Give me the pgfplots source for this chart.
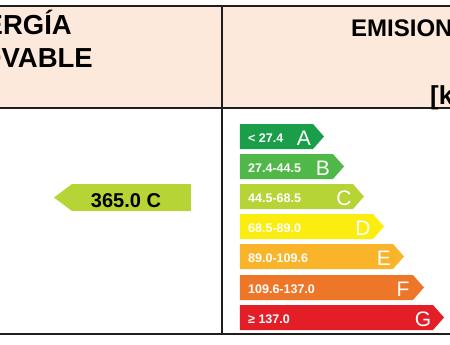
\documentclass[border=0pt]{standalone}
\usepackage{pgfplots}
\pgfplotsset{compat=1.18}
\usepackage{fontspec}
\setmainfont{Liberation Sans}

\definecolor{peach}{RGB}{252,233,219}
\definecolor{clsA}{RGB}{26,158,74}
\definecolor{clsB}{RGB}{80,184,72}
\definecolor{clsC}{RGB}{183,212,55}
\definecolor{clsD}{RGB}{252,237,16}
\definecolor{clsE}{RGB}{249,180,42}
\definecolor{clsF}{RGB}{238,118,40}
\definecolor{clsG}{RGB}{228,30,38}
\definecolor{rule}{RGB}{30,30,30}

\newcommand\hdfont{\fontsize{27.5}{30}\selectfont\bfseries}
\newcommand\rangefont{\fontsize{12.5}{14}\selectfont\bfseries}
\newcommand\letterfont{\fontsize{21}{23}\selectfont}

\begin{document}
\begin{tikzpicture}
\useasboundingbox (0,0) rectangle (450pt,345pt);
\begin{axis}[
  at={(0,0)}, anchor=south west,
  scale only axis, width=450pt, height=345pt,
  xmin=0, xmax=450, ymin=0, ymax=345,
  y dir=reverse, hide axis, clip=false]

% header band
\addplot[fill=peach, draw=none] coordinates {(0,6) (450,6) (450,108) (0,108)} -- cycle;

% rating scale: left edge 240, height 25, arrow tip 11 wide
\addplot[fill=clsA, draw=none] coordinates {(240,124) (313,124) (324,136.5) (313,149) (240,149)} -- cycle;
\addplot[fill=clsB, draw=none] coordinates {(240,154) (333,154) (344,166.5) (333,179) (240,179)} -- cycle;
\addplot[fill=clsC, draw=none] coordinates {(240,184) (353,184) (364,196.5) (353,209) (240,209)} -- cycle;
\addplot[fill=clsD, draw=none] coordinates {(240,214) (373,214) (384,226.5) (373,239) (240,239)} -- cycle;
\addplot[fill=clsE, draw=none] coordinates {(240,244) (393,244) (404,256.5) (393,269) (240,269)} -- cycle;
\addplot[fill=clsF, draw=none] coordinates {(240,275) (413,275) (424,287.5) (413,300) (240,300)} -- cycle;
\addplot[fill=clsG, draw=none] coordinates {(240,305) (433,305) (444,317.5) (433,330) (240,330)} -- cycle;

% indicator of the rated value
\addplot[fill=clsC, draw=none] coordinates {(54,197.5) (72,184) (191,184) (191,211) (72,211)} -- cycle;

% table rules
\draw[rule, line width=1.3pt] (axis cs:0,6) -- (axis cs:450,6);
\draw[rule, line width=1.3pt] (axis cs:0,108) -- (axis cs:450,108);
\draw[rule, line width=1.3pt] (axis cs:0,334) -- (axis cs:450,334);
\draw[rule, line width=1.3pt] (axis cs:222,6) -- (axis cs:222,334);

% header texts
\node[anchor=base east, inner sep=0, font=\hdfont] at (axis cs:72,35) {CONSUMO DE ENERGÍA};
\node[anchor=base east, inner sep=0, font=\hdfont] at (axis cs:93,67) {PRIMARIA NO RENOVABLE};
\node[anchor=base west, inner sep=0, font=\fontsize{24}{28}\selectfont\bfseries] at (axis cs:351,36.5) {EMISIONES DE};
\node[anchor=base west, inner sep=0, font=\fontsize{26}{30}\selectfont\bfseries] at (axis cs:430,104.5) {[kgCO₂/m² año]};

% range labels
\node[anchor=base west, inner sep=0, text=white, font=\rangefont] at (axis cs:248,142.5) {< 27.4};
\node[anchor=base west, inner sep=0, text=white, font=\rangefont] at (axis cs:248,172.5) {27.4-44.5};
\node[anchor=base west, inner sep=0, text=white, font=\rangefont] at (axis cs:248,202.5) {44.5-68.5};
\node[anchor=base west, inner sep=0, text=white, font=\rangefont] at (axis cs:248,232.5) {68.5-89.0};
\node[anchor=base west, inner sep=0, text=white, font=\rangefont] at (axis cs:248,262.5) {89.0-109.6};
\node[anchor=base west, inner sep=0, text=white, font=\rangefont] at (axis cs:248,293.5) {109.6-137.0};
\node[anchor=base west, inner sep=0, text=white, font=\rangefont] at (axis cs:248,323.5) {≥ 137.0};

% class letters
\node[anchor=base, inner sep=0, text=white, font=\letterfont] at (axis cs:304,145) {A};
\node[anchor=base, inner sep=0, text=white, font=\letterfont] at (axis cs:323,175) {B};
\node[anchor=base, inner sep=0, text=white, font=\letterfont] at (axis cs:344,205) {C};
\node[anchor=base, inner sep=0, text=white, font=\letterfont] at (axis cs:363,235) {D};
\node[anchor=base, inner sep=0, text=white, font=\letterfont] at (axis cs:384,265) {E};
\node[anchor=base, inner sep=0, text=white, font=\letterfont] at (axis cs:403,296) {F};
\node[anchor=base, inner sep=0, text=white, font=\letterfont] at (axis cs:423,326) {G};

% rated value
\node[anchor=base, inner sep=0, font=\fontsize{20}{22}\selectfont\bfseries] at (axis cs:126,207) {365.0 C};
\end{axis}
\end{tikzpicture}
\end{document}
